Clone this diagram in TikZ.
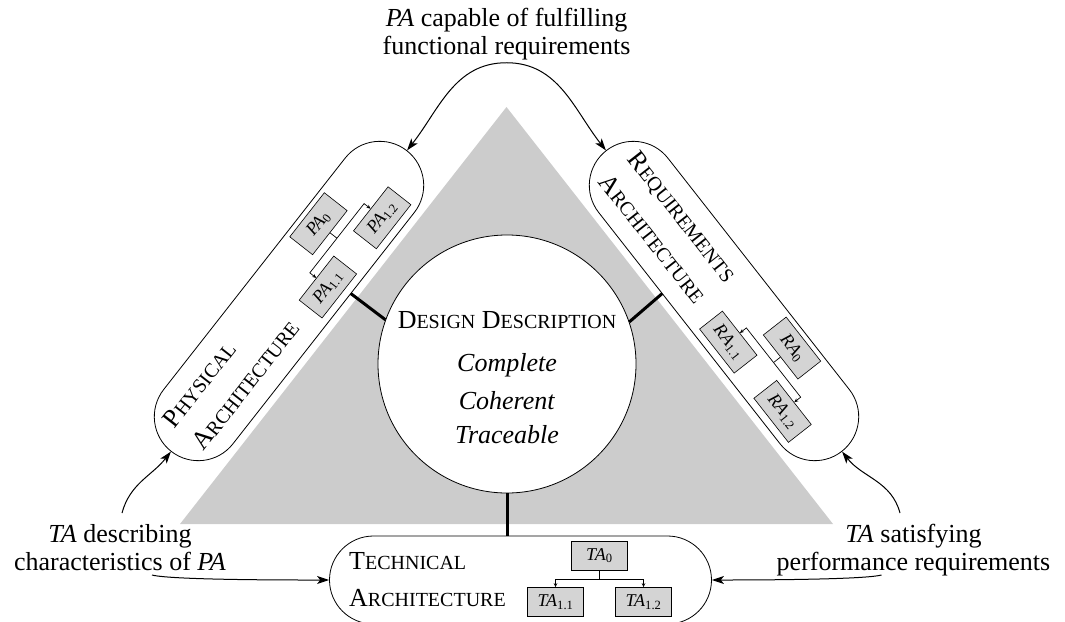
\documentclass[tikz,border=0pt]{standalone}
\usepackage{fontspec}
\setmainfont{Liberation Serif}
\usetikzlibrary{arrows.meta,calc}

% capital letter followed by reduced capitals (small-caps look)
\newcommand\sck[2]{#1{\fontsize{20}{20}\selectfont#2}}

\tikzset{
  every node/.style={font=\fontsize{26}{28}\selectfont},
  stadium/.style={draw, line width=0.8pt, fill=white, rounded corners=44pt,
    minimum width=382pt, minimum height=88pt, inner sep=0pt},
  unitlabel/.style={anchor=base west, inner sep=0pt},
  subbox/.style={draw, line width=0.6pt, fill=black!17, minimum width=56pt,
    minimum height=29pt, inner sep=2pt, font=\fontsize{18}{20}\selectfont},
  treeline/.style={line width=0.7pt},
  treearrow/.style={line width=0.7pt, -{Stealth[length=4pt,width=3.5pt]}},
  flow/.style={line width=1pt, -{Stealth[length=12pt,width=8pt,inset=3pt]}},
  hublink/.style={line width=3pt},
  flowlabel/.style={align=center, anchor=base, inner sep=3pt},
}

% one architecture: stadium, two-line title and a three-box tree
% #1 name, #2 centre, #3 angle, #4/#5 first word, #6 prefix, #7 link point (local)
\newcommand\archunit[7]{%
  \begin{scope}[shift={#2}, rotate=#3, transform shape]
    \node[stadium] (#1) at (0,0) {};
    \node[unitlabel] (#1-top) at (-171.5,11) {\sck{#4}{#5}};
    \node[unitlabel] (#1-bot) at (-171.5,-26) {\sck{A}{RCHITECTURE}};
    \node[subbox] (#1-0) at (79,24.5) {\textit{#6}\textsubscript{0}};
    \node[subbox] (#1-1) at (35,-22) {\textit{#6}\textsubscript{1.1}};
    \node[subbox] (#1-2) at (123,-22) {\textit{#6}\textsubscript{1.2}};
    \coordinate (#1-j) at (79,1);
    \coordinate (#1-j1) at (35,1);
    \coordinate (#1-j2) at (123,1);
    \draw[treeline] (#1-0.south) -- (#1-j);
    \draw[treearrow] (#1-j) -- (#1-j1) -- (#1-1.north);
    \draw[treearrow] (#1-j) -- (#1-j2) -- (#1-2.north);
    \coordinate (#1-link) at #7;
  \end{scope}}

\begin{document}
\begin{tikzpicture}[x=1pt, y=1pt]
  \useasboundingbox (0,-621) rectangle (1065,0);

  % grey triangle behind everything
  \fill[black!20] (180,-524) -- (833,-524) -- (506.5,-107) -- cycle;

  % the three architectures
  \archunit{TA}{(520.5,-580)}{0}{T}{ECHNICAL}{TA}{(-13.5,44)}
  \archunit{PA}{(289,-301)}{51.9}{P}{HYSICAL}{PA}{(44,-44)}
  \archunit{RA}{(724,-301)}{-51.9}{R}{EQUIREMENTS}{RA}{(-44,-44)}

  % design description hub
  \node[circle, draw, line width=0.8pt, fill=white, minimum size=258pt,
        inner sep=0pt] (hub) at (507,-364) {};
  \node[anchor=base, inner sep=0pt] (hub-title) at (507,-328)
    {\sck{D}{ESIGN} \sck{D}{ESCRIPTION}};
  \node[anchor=base, inner sep=0pt] (hub-q1) at (507,-371) {\textit{Complete}};
  \node[anchor=base, inner sep=0pt] (hub-q2) at (507,-409) {\textit{Coherent}};
  \node[anchor=base, inner sep=0pt] (hub-q3) at (507,-443) {\textit{Traceable}};

  \draw[hublink] (hub.160.4) -- (PA-link);
  \draw[hublink] (hub.19.6) -- (RA-link);
  \draw[hublink] (hub.south) -- (TA-link);

  % relation labels (anchored on the baseline of their last line)
  \node[flowlabel] (lbl-top) at (506.5,-54)
    {\textit{PA} capable of fulfilling\\functional requirements};
  \node[flowlabel] (lbl-left) at (120,-570)
    {\textit{TA} describing\\characteristics of \textit{PA}};
  \node[flowlabel] (lbl-right) at (913.5,-570)
    {\textit{TA} satisfying\\performance requirements};

  \coordinate (left-up) at (122,-513);
  \coordinate (left-side) at (152,-575);
  \coordinate (right-up) at (900,-513);
  \coordinate (right-side) at (881.5,-575);

  % relations
  \draw[flow] (lbl-top.south) to[out=180, in=51.9] (PA.east);
  \draw[flow] (lbl-top.south) to[out=0, in=128.1] (RA.west);
  \draw[flow] (left-up) to[out=75, in=231.9] (PA.west);
  \draw[flow] (right-up) to[out=105, in=-51.9] (RA.east);
  \draw[flow] (left-side) to[out=-15, in=180, looseness=0.3] (TA.west);
  \draw[flow] (right-side) to[out=195, in=0, looseness=0.3] (TA.east);
\end{tikzpicture}
\end{document}
